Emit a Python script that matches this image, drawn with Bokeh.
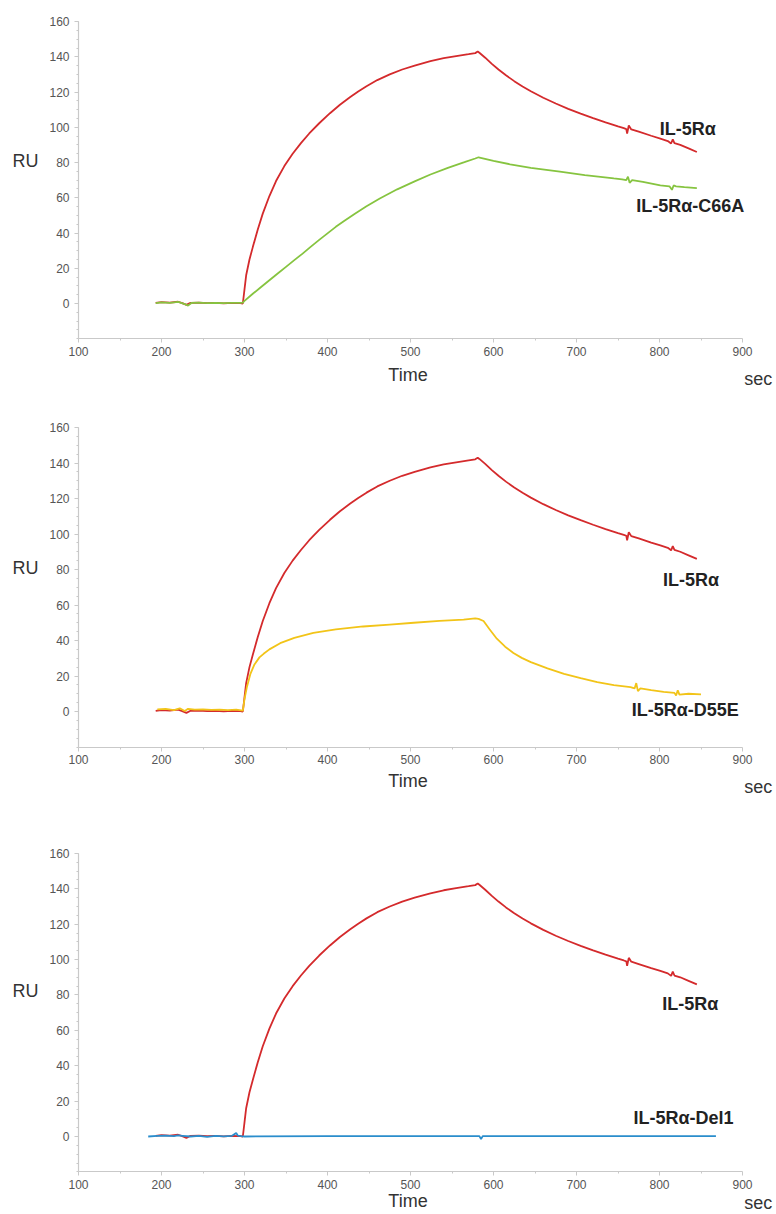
from bokeh.plotting import figure
from bokeh.models import FixedTicker, Label, Range1d
from bokeh.layouts import column
from bokeh.embed import file_html
from bokeh.resources import INLINE

# ---------------- data ----------------
# IL-5Ralpha (wild type), same sensorgram shown in all three panels
wt_t = [193, 200, 210, 220, 225, 230, 235, 245, 255, 265, 275, 285, 295, 298,
        300, 302, 306, 310, 316, 322, 330, 338, 348, 358, 368, 378, 390, 403,
        415, 427, 437, 447, 460, 475, 490, 505, 524, 540, 555, 570, 578, 581, 583,
        590, 598, 606, 615, 625, 635, 645, 660, 675, 690, 705, 720, 735, 750, 757,
        760, 761, 763, 766, 775, 790, 801, 810, 814, 816, 818, 825, 835, 845]
wt_v = [0.3, 0.8, 0.5, 1.0, 0.2, -0.8, 0.4, 0.5, 0.2, 0.3, 0.1, 0.3, 0.2, 0.0,
        8, 16, 25, 32, 42, 51, 61, 69.5, 78, 85, 91, 96.5, 102.3, 108,
        112.8, 117, 120.3, 123.3, 126.8, 130, 132.8, 135, 137.5, 139.2, 140.4, 141.5, 142.1, 143, 142.3,
        139.5, 136, 132.8, 129.5, 126.2, 123.2, 120.5, 116.8, 113.5, 110.5, 107.8, 105.2, 102.8, 100.5, 99.5,
        99, 96.5, 101, 98.8, 97.5, 95.2, 93.6, 92.2, 90.8, 93.2, 91, 90, 88, 86]

# IL-5Ralpha-C66A
c66a_t = [193, 200, 210, 220, 228, 232, 236, 245, 255, 265, 275, 285, 295, 298,
          300, 310, 320, 330, 340, 350, 360, 370, 380, 390, 400, 410, 420, 433, 447,
          463, 484, 505, 524, 545, 565, 578, 582, 600, 620, 645, 680, 710, 745, 755,
          760, 762, 764, 767, 780, 801, 812, 815, 817, 820, 830, 845]
c66a_v = [0.2, 0.6, 0.3, 0.9, -0.3, -1.2, 0.3, 0.5, 0.2, 0.4, 0.2, 0.3, 0.3, 0.5,
          1.5, 5.5, 9.4, 13.2, 17, 20.8, 24.6, 28.3, 32.3, 36.1, 39.8, 43.5, 46.8, 51, 55.2,
          59.6, 64.8, 69.3, 73.2, 77, 80.2, 82.3, 83, 81, 79, 77, 74.8, 72.8, 71, 70.5,
          70, 72, 68.5, 70, 69, 67, 66.5, 64.5, 67, 66.5, 66, 65.5]

# IL-5Ralpha-D55E
d55e_t = [195, 205, 215, 222, 228, 232, 240, 250, 260, 270, 280, 290, 298,
          300, 303, 307, 312, 318, 323, 330, 343, 360, 383, 410, 443, 475, 504, 535,
          564, 578, 582, 588, 595, 604, 614, 624, 634, 645, 665, 685, 705, 725, 745,
          765, 770, 772, 774, 777, 790, 805, 818, 820, 822, 824, 835, 850]
d55e_v = [1.2, 1.5, 0.8, 1.8, 0.3, 1.5, 1.0, 1.2, 0.9, 1.1, 0.8, 1.0, 0.5,
          7, 14, 21, 26.5, 30.5, 32.5, 35, 38.5, 41.5, 44.3, 46.3, 47.9, 49, 50, 51,
          51.8, 52.5, 52.2, 51, 46.5, 41, 36.5, 33, 30.2, 27.8, 24.3, 21.2, 18.8, 16.5, 14.8,
          13.7, 13, 16, 11.5, 13, 12, 11, 10.5, 9, 12, 9.5, 10, 9.6]

# IL-5Ralpha-Del1
del1_t = [184, 195, 205, 215, 220, 225, 235, 245, 255, 265, 275, 285, 290, 292,
          296, 300, 400, 500, 583, 585, 587, 700, 800, 868]
del1_v = [0.0, 0.3, 0.5, 0.2, 0.6, 0.4, 0.0, 0.3, -0.2, 0.3, 0.1, 0.4, 2.0, 0.5,
          0.2, 0.0, 0.2, 0.2, 0.2, -1.5, 0.2, 0.2, 0.2, 0.2]

x_ticks = [100, 200, 300, 400, 500, 600, 700, 800, 900]
x_minor = [150, 250, 350, 450, 550, 650, 750, 850]
y_ticks = [0, 20, 40, 60, 80, 100, 120, 140, 160]
y_minor = list(range(-20, 161, 5))

RED = "#d42a2c"
GREEN = "#86c440"
YELLOW = "#f2c418"
BLUE = "#2a8dcc"

FONT = "Liberation Sans"
AXIS_GRAY = "#c9c9c9"

# ---------------- layout (pixels) ----------------
W = 776
X_LEFT_PX = 78          # where t = 100 sits
PX_PER_SEC = 0.83


def make_panel(height, zero_px, px_per_ru, series, labels, ru_y, time_y, sec_y):
    x0 = 100 - X_LEFT_PX / PX_PER_SEC
    x1 = 100 + (W - X_LEFT_PX) / PX_PER_SEC
    y1 = zero_px / px_per_ru
    y0 = -(height - zero_px) / px_per_ru
    p = figure(width=W, height=height,
               x_range=Range1d(x0, x1), y_range=Range1d(y0, y1),
               output_backend="svg", toolbar_location=None,
               min_border=0, min_border_left=0, min_border_right=0,
               min_border_top=0, min_border_bottom=0)
    p.outline_line_color = None
    p.xgrid.visible = False
    p.ygrid.visible = False
    p.background_fill_color = "white"
    p.border_fill_color = "white"

    p.xaxis.ticker = FixedTicker(ticks=x_ticks, minor_ticks=x_minor)
    p.yaxis.ticker = FixedTicker(ticks=y_ticks, minor_ticks=y_minor)
    p.xaxis.fixed_location = -20
    p.yaxis.fixed_location = 100
    p.xaxis.bounds = (100, 900)
    p.yaxis.bounds = (-20, 160)
    for ax in (p.xaxis, p.yaxis):
        ax.axis_line_color = AXIS_GRAY
        ax.axis_line_width = 1.2
        ax.major_tick_line_color = AXIS_GRAY
        ax.minor_tick_line_color = AXIS_GRAY
        ax.major_tick_out = 4
        ax.major_tick_in = 0
        ax.minor_tick_out = 2
        ax.minor_tick_in = 0
        ax.major_label_text_font = FONT
        ax.major_label_text_font_size = "12px"
        ax.major_label_text_color = "#555555"
    p.xaxis.major_label_standoff = 4
    p.yaxis.major_label_standoff = 5

    for t, v, c in series:
        p.line(t, v, line_color=c, line_width=1.8)

    for x, y, txt in labels:
        p.add_layout(Label(x=x, y=y, text=txt, text_font=FONT,
                           text_font_size="18px", text_font_style="bold",
                           text_color="#222222", text_align="center",
                           text_baseline="middle"))

    p.add_layout(Label(x=36, y=ru_y, text="RU", text_font=FONT,
                       text_font_size="18px", text_color="#333333",
                       text_align="center", text_baseline="middle"))
    p.add_layout(Label(x=497, y=time_y, text="Time", text_font=FONT,
                       text_font_size="18px", text_color="#333333",
                       text_align="center", text_baseline="alphabetic"))
    p.add_layout(Label(x=902, y=sec_y, text="sec", text_font=FONT,
                       text_font_size="18px", text_color="#333333",
                       text_align="left", text_baseline="alphabetic"))
    return p


p1 = make_panel(410, 303, 1.762,
                [(wt_t, wt_v, RED), (c66a_t, c66a_v, GREEN)],
                [(834, 99, "IL-5R\u03b1"), (837, 55.6, "IL-5R\u03b1-C66A")],
                81, -40.3, -42.6)
p2 = make_panel(420, 301, 1.775,
                [(wt_t, wt_v, RED), (d55e_t, d55e_v, YELLOW)],
                [(838, 74, "IL-5R\u03b1"), (831, 1, "IL-5R\u03b1-D55E")],
                81, -39.4, -42.8)
p3 = make_panel(382, 306, 1.769,
                [(wt_t, wt_v, RED), (del1_t, del1_v, BLUE)],
                [(837, 75, "IL-5R\u03b1"), (829, 10.7, "IL-5R\u03b1-Del1")],
                82, -36.5, -37.5)

layout = column(p1, p2, p3, spacing=0)
open("out.html", "w").write(file_html(layout, INLINE))
